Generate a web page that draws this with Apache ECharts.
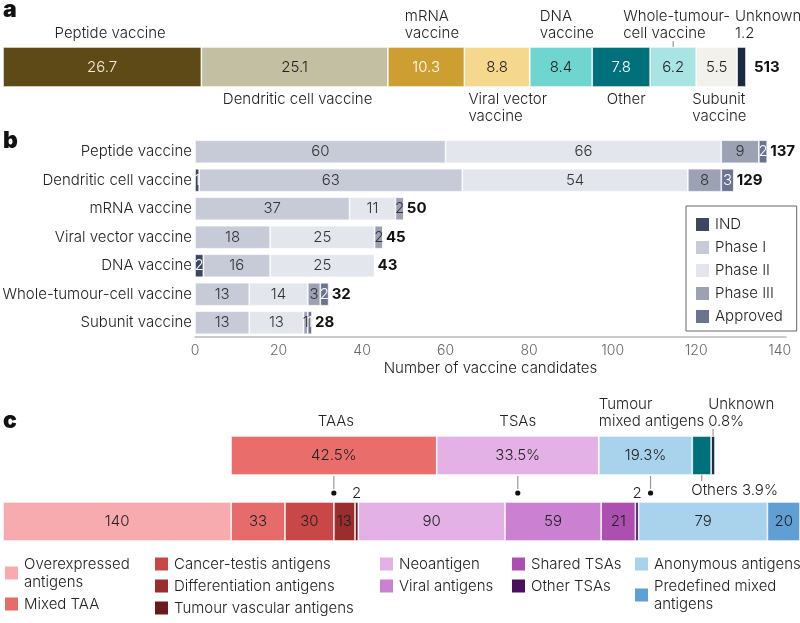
<!DOCTYPE html>
<html>
<head>
<meta charset="utf-8">
<script src="https://cdn.jsdelivr.net/npm/echarts@6/dist/echarts.min.js"></script>
<style>
html, body { margin: 0; padding: 0; background: #fff; }
#chart { width: 800px; height: 623px; }
</style>
</head>
<body>
<div id="chart"></div>
<script>
// a: share of all candidates by vaccine type (%)
const typeNames = ['Peptide vaccine', 'Dendritic cell vaccine', 'mRNA vaccine', 'Viral vector vaccine', 'DNA vaccine',
    'Other', 'Whole-tumour-cell vaccine', 'Subunit vaccine', 'Unknown'];
const typeShare = [26.7, 25.1, 10.3, 8.8, 8.4, 7.8, 6.2, 5.5, 1.2];
const typeTotal = 513;

// b: candidates by platform and phase
const platforms = ['Peptide vaccine', 'Dendritic cell vaccine', 'mRNA vaccine', 'Viral vector vaccine', 'DNA vaccine',
    'Whole-tumour-cell vaccine', 'Subunit vaccine'];
const phases = ['IND', 'Phase I', 'Phase II', 'Phase III', 'Approved'];
const indCounts = [0, 1, 0, 0, 2, 0, 0];
const phase1Counts = [60, 63, 37, 18, 16, 13, 13];
const phase2Counts = [66, 54, 11, 25, 25, 14, 13];
const phase3Counts = [9, 8, 2, 2, 0, 3, 1];
const approvedCounts = [2, 3, 0, 0, 0, 2, 1];
const platformTotals = [137, 129, 50, 45, 43, 32, 28];
const xTicks = [0, 20, 40, 60, 80, 100, 120, 140];

// c: antigen classes
const antigenGroups = ['TAAs', 'TSAs', 'Tumour mixed antigens', 'Others', 'Unknown'];
const groupShare = [42.5, 33.5, 19.3, 3.9, 0.8];
const antigenTypes = ['Overexpressed antigens', 'Mixed TAA', 'Cancer-testis antigens', 'Differentiation antigens',
    'Tumour vascular antigens', 'Neoantigen', 'Viral antigens', 'Shared TSAs', 'Other TSAs', 'Anonymous antigens',
    'Predefined mixed antigens'];
const antigenCounts = [140, 33, 30, 13, 2, 90, 59, 21, 2, 79, 20];

const FONT = 'Inter, Lato, "Noto Sans", sans-serif';
const INK = '#222';
const FS = 15;

const typeColors = ['#5e4a17', '#c3bfa2', '#cd9f32', '#f5d88e', '#6fd5cf', '#00717b', '#a8e4e4', '#f2f1eb', '#1e2a43'];
const typeLabelColors = ['#f4ecd6', INK, '#fff', INK, INK, '#fff', INK, INK, '#fff'];
const phaseColors = ['#3d4860', '#c7cad7', '#e4e6ee', '#9ca1b4', '#6a7390'];
const phaseLabelColors = ['#fff', '#333', '#333', '#333', '#fff'];
const groupColors = ['#e86d6b', '#e3b1e6', '#a9d2ec', '#00717b', '#1e2a43'];
const antigenColors = ['#f8abae', '#e56c6a', '#c94747', '#9b2d2e', '#6a1a1c', '#e3b1e6', '#cc80d1', '#ac4fb1',
    '#4a0f5f', '#a9d2ec', '#5f9fd3'];

// layout of the panels
const A = {left: 3, top: 47, width: 743, height: 40};
const B = {left: 195, top: 137.5, width: 591, height: 199.5};
const C1 = {left: 231, top: 436, width: 484, height: 39};
const C2 = {left: 3, top: 502, width: 797, height: 39};

const sum = arr => arr.reduce((s, v) => s + v, 0);
const starts = arr => { let acc = 0; return arr.map(v => { const s = acc; acc += v; return s; }); };

const chart = echarts.init(document.getElementById('chart'));

const series = [];

// panel a
typeShare.forEach((v, i) => series.push({
    type: 'bar', name: typeNames[i], xAxisIndex: 0, yAxisIndex: 0, stack: 'a', barWidth: A.height, barGap: '-100%',
    data: [v],
    itemStyle: {color: typeColors[i], borderColor: '#fff', borderWidth: 0.7},
    label: {show: i < typeShare.length - 1, position: 'inside', color: typeLabelColors[i], fontSize: FS,
        fontWeight: 300, fontFamily: FONT, formatter: p => p.value.toFixed(1)}
}));
series.push({
    type: 'bar', xAxisIndex: 0, yAxisIndex: 0, barWidth: A.height, barGap: '-100%', z: 0, silent: true,
    data: [sum(typeShare)], itemStyle: {color: 'transparent'},
    label: {show: true, position: 'right', distance: 8, formatter: String(typeTotal), fontSize: FS,
        fontWeight: 'bold', fontFamily: FONT, color: '#111'}
});

// panel b
[indCounts, phase1Counts, phase2Counts, phase3Counts, approvedCounts].forEach((arr, i) => series.push({
    type: 'bar', name: phases[i], xAxisIndex: 1, yAxisIndex: 1, stack: 'b', barWidth: 23, barGap: '-100%',
    data: arr,
    itemStyle: {color: phaseColors[i], borderColor: '#fff', borderWidth: 0.7},
    label: {show: true, position: 'inside', color: phaseLabelColors[i], fontSize: FS, fontWeight: 300,
        fontFamily: FONT, formatter: p => p.value ? p.value : ''}
}));
series.push({
    type: 'bar', xAxisIndex: 1, yAxisIndex: 1, barWidth: 23, barGap: '-100%', z: 0, silent: true,
    data: platformTotals, itemStyle: {color: 'transparent'},
    label: {show: true, position: 'right', distance: 3, fontSize: FS, fontWeight: 'bold', fontFamily: FONT,
        color: '#111'}
});

// panel c, upper bar
groupShare.forEach((v, i) => series.push({
    type: 'bar', name: antigenGroups[i], xAxisIndex: 2, yAxisIndex: 2, stack: 'c1', barWidth: C1.height,
    data: [v],
    itemStyle: {color: groupColors[i], borderColor: '#fff', borderWidth: 0.7},
    label: {show: i < 3, position: 'inside', color: INK, fontSize: FS, fontWeight: 300, fontFamily: FONT,
        formatter: p => p.value.toFixed(1) + '%'}
}));

// panel c, lower bar
antigenCounts.forEach((v, i) => series.push({
    type: 'bar', name: antigenTypes[i], xAxisIndex: 3, yAxisIndex: 3, stack: 'c2', barWidth: C2.height,
    data: [v],
    itemStyle: {color: antigenColors[i], borderColor: '#fff', borderWidth: 0.7},
    label: {show: v > 2, position: 'inside', color: INK, fontSize: FS, fontWeight: 300, fontFamily: FONT}
}));

const legendText = {
    'Overexpressed antigens': 'Overexpressed\nantigens',
    'Predefined mixed antigens': 'Predefined mixed\nantigens'
};
const legendBase = {
    orient: 'vertical', icon: 'rect', itemWidth: 15, itemHeight: 15, itemGap: 4, padding: 0, selectedMode: false,
    textStyle: {fontSize: FS, fontWeight: 300, fontFamily: FONT, color: INK, lineHeight: 18},
    formatter: n => legendText[n] || n
};

const hiddenValue = (grid, max) => ({gridIndex: grid, type: 'value', min: 0, max: max, show: false});
const hiddenCat = (grid, name) => ({gridIndex: grid, type: 'category', data: [name], show: false});

chart.setOption({
    animation: false,
    backgroundColor: '#fff',
    textStyle: {fontFamily: FONT},
    grid: [A, B, C1, C2].map(g => Object.assign({containLabel: false, outerBoundsMode: 'none'}, g)),
    xAxis: [
        hiddenValue(0, 100),
        {
            gridIndex: 1, type: 'value', min: 0, max: 141.5,
            axisLine: {show: true, lineStyle: {color: '#bbb', width: 1.5}},
            axisTick: {show: false},
            splitLine: {show: false},
            axisLabel: {color: '#666', fontSize: 14, fontWeight: 300, margin: 7, fontFamily: FONT,
                customValues: xTicks},
            name: 'Number of vaccine candidates', nameLocation: 'middle', nameGap: 24,
            nameTextStyle: {color: INK, fontSize: FS, fontWeight: 300, fontFamily: FONT}
        },
        hiddenValue(2, 100),
        hiddenValue(3, sum(antigenCounts))
    ],
    yAxis: [
        hiddenCat(0, 'all'),
        {
            gridIndex: 1, type: 'category', data: platforms, inverse: true,
            axisLine: {show: false}, axisTick: {show: false},
            axisLabel: {color: INK, fontSize: FS, fontWeight: 300, margin: 3, fontFamily: FONT}
        },
        hiddenCat(2, 'groups'),
        hiddenCat(3, 'types')
    ],
    legend: [
        Object.assign({}, legendBase, {
            left: 686, top: 206, data: phases, itemGap: 6, padding: [10, 14, 6, 8],
            borderColor: '#666', borderWidth: 1,
            textStyle: {fontSize: FS, fontWeight: 300, fontFamily: FONT, color: INK, lineHeight: 16}
        }),
        Object.assign({}, legendBase, {left: 3, top: 555, data: antigenTypes.slice(0, 2)}),
        Object.assign({}, legendBase, {left: 153, top: 555, data: antigenTypes.slice(2, 5)}),
        Object.assign({}, legendBase, {left: 378, top: 555, data: antigenTypes.slice(5, 7)}),
        Object.assign({}, legendBase, {left: 510, top: 555, data: antigenTypes.slice(7, 9)}),
        Object.assign({}, legendBase, {left: 633, top: 555, data: antigenTypes.slice(9, 11)})
    ],
    series: series
});

// annotations, placed from the axes
const px = (axis, v) => chart.convertToPixel({xAxisIndex: axis}, v);
const graphic = [];
const txt = (text, x, y, align, vAlign, extra) => graphic.push({
    type: 'text', x: x, y: y, silent: true,
    style: Object.assign({text: text, fill: INK, fontSize: FS, fontWeight: 300, fontFamily: FONT, lineHeight: 17,
        align: align, verticalAlign: vAlign}, extra || {})
});
const tick = (x, y1, y2) => graphic.push({
    type: 'line', silent: true, shape: {x1: x, y1: y1, x2: x, y2: y2}, style: {stroke: '#999', lineWidth: 1.2}
});

['a', 'b', 'c'].forEach((l, i) => txt(l, 3, [10, 141, 421][i], 'left', 'middle',
    {fontSize: 23, fontWeight: 900, fill: '#111'}));

// panel a names
const typeLabels = ['Peptide vaccine', 'Dendritic cell vaccine', 'mRNA\nvaccine', 'Viral vector\nvaccine',
    'DNA\nvaccine', 'Other', 'Whole-tumour-\ncell vaccine', 'Subunit\nvaccine', 'Unknown\n' + typeShare[8]];
const typeLabelLayout = [
    {side: 'up', align: 'center', dx: 8},
    {side: 'down', align: 'center', dx: 3},
    {side: 'up', align: 'left', dx: 17},
    {side: 'down', align: 'left', dx: 4},
    {side: 'up', align: 'left', dx: 10},
    {side: 'down', align: 'center', dx: 5},
    {side: 'up', align: 'left', dx: -27, tick: true},
    {side: 'down', align: 'left', dx: -4},
    {side: 'up', align: 'left', dx: -2}
];
const aStart = starts(typeShare);
typeLabels.forEach((t, i) => {
    const L = typeLabelLayout[i];
    const x0 = px(0, aStart[i]);
    const xc = px(0, aStart[i] + typeShare[i] / 2);
    const x = (L.align === 'center' ? xc : x0) + L.dx;
    if (L.side === 'up') txt(t, x, A.top - 5, L.align, 'bottom');
    else txt(t, x, A.top + A.height + 4, L.align, 'top');
    if (L.tick) tick(xc, A.top - 6, A.top);
});

// panel c upper names
const groupLabels = ['TAAs', 'TSAs', 'Tumour\nmixed antigens', 'Others ' + groupShare[3] + '%',
    'Unknown\n' + groupShare[4] + '%'];
const groupLabelLayout = [
    {side: 'up', align: 'center', dx: 2},
    {side: 'up', align: 'center', dx: 0},
    {side: 'up', align: 'left', dx: 0},
    {side: 'down', align: 'left', dx: -1, tick: true},
    {side: 'up', align: 'left', dx: -3, tick: true}
];
const cStart = starts(groupShare);
groupLabels.forEach((t, i) => {
    const L = groupLabelLayout[i];
    const x0 = px(2, cStart[i]);
    const xc = px(2, cStart[i] + groupShare[i] / 2);
    const x = (L.align === 'center' ? xc : x0) + L.dx;
    if (L.side === 'up') {
        txt(t, x, C1.top - 6, L.align, 'bottom');
        if (L.tick) tick(xc, C1.top - 7, C1.top);
    } else {
        txt(t, x, C1.top + C1.height + 7, L.align, 'top');
        if (L.tick) tick(xc, C1.top + C1.height, C1.top + C1.height + 6);
    }
});

// connectors from the three main groups
[0, 1, 2].forEach(i => {
    const xc = px(2, cStart[i] + groupShare[i] / 2) + (i === 2 ? 5 : 0);
    tick(xc, C1.top + C1.height + 1, 489);
    graphic.push({type: 'circle', silent: true, shape: {cx: xc, cy: 493, r: 2.6}, style: {fill: '#111'}});
});

// values of the thin segments, written above the lower bar
const lStart = starts(antigenCounts);
[4, 8].forEach(i => {
    txt(String(antigenCounts[i]), px(3, lStart[i] + antigenCounts[i] / 2), 493, 'center', 'middle');
});

chart.setOption({graphic: graphic});
</script>
</body>
</html>
